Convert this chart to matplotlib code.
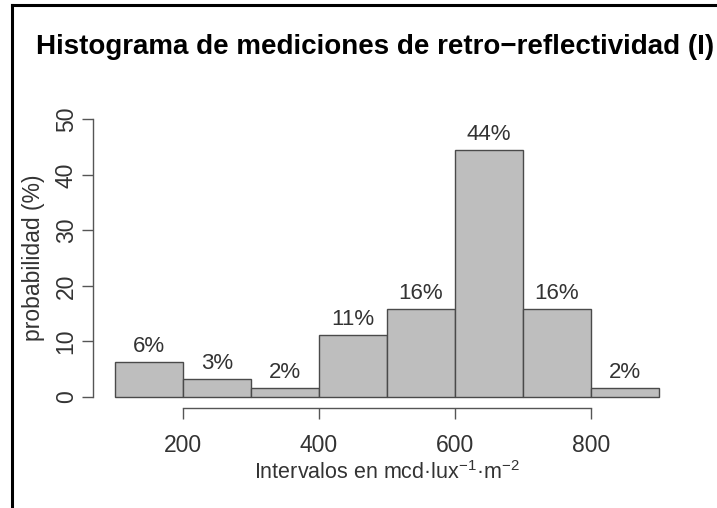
import numpy as np
import matplotlib
matplotlib.use("Agg")
import matplotlib.pyplot as plt
from matplotlib.lines import Line2D

# ================= datos =================
bordes = [100, 200, 300, 400, 500, 600, 700, 800, 900]
prob = [6.3, 3.2, 1.6, 11.1, 15.9, 44.4, 15.9, 1.6]
etiquetas = ["6%", "3%", "2%", "11%", "16%", "44%", "16%", "2%"]
xticks = [200, 400, 600, 800]
yticks = [0, 10, 20, 30, 40, 50]

plt.rcParams['font.family'] = ['Liberation Sans', 'DejaVu Sans']
plt.rcParams['mathtext.fontset'] = 'custom'
plt.rcParams['mathtext.rm'] = 'Liberation Sans'
plt.rcParams['mathtext.it'] = 'Liberation Sans'

gris_txt = "#333333"

fig = plt.figure(figsize=(7.17, 5.08), dpi=100)
ax = fig.add_axes([0.1297, 0.197, 0.8195, 0.5898])

izq = np.array(bordes[:-1])
ancho = np.diff(bordes)
ax.bar(izq, prob, width=ancho, align="edge", color="#BEBEBE",
       edgecolor="#4a4a4a", linewidth=1.0)

for x, w, p, lab in zip(izq, ancho, prob, etiquetas):
    ax.text(x + w / 2, p + 0.9, lab, ha="center", va="bottom",
            fontsize=16, color=gris_txt)

ax.set_xlim(68, 932)
ax.set_ylim(-2, 52)

for s in ["top", "right"]:
    ax.spines[s].set_visible(False)
ax.spines["left"].set_bounds(0, 50)
ax.spines["bottom"].set_bounds(200, 800)
for s in ["left", "bottom"]:
    ax.spines[s].set_color("#555555")
    ax.spines[s].set_linewidth(1.0)

ax.set_xticks(xticks)
ax.set_yticks(yticks)
ax.set_yticklabels([str(v) for v in yticks], rotation=90, va="center")
ax.tick_params(axis="both", labelsize=16.5, colors="#555555", labelcolor=gris_txt,
               length=8, width=1.0)
ax.tick_params(axis="x", pad=11)
ax.tick_params(axis="y", pad=3)

ax.set_xlabel("Intervalos en mcd·lux$^{-1}$·m$^{-2}$",
              fontsize=15.5, color=gris_txt, labelpad=3)
ax.set_ylabel("probabilidad (%)", fontsize=16.5, color=gris_txt, labelpad=7)

fig.text(0.523, 0.907, "Histograma de mediciones de retro\u2212reflectividad (I)",
         ha="center", va="center", fontsize=20, fontweight="bold")

# marco de la imagen
fig.add_artist(Line2D([11.5 / 717, 11.5 / 717], [0, 1 - 5 / 508],
                      transform=fig.transFigure, color="black", linewidth=2.2))
fig.add_artist(Line2D([11.5 / 717, 1], [1 - 5 / 508, 1 - 5 / 508],
                      transform=fig.transFigure, color="black", linewidth=2.2))

fig.savefig("out.png", dpi=100)
